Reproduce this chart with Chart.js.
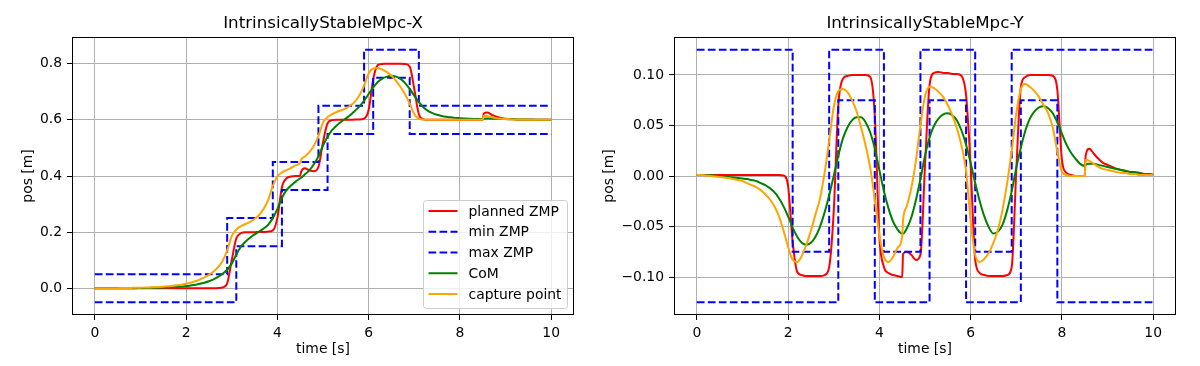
<!DOCTYPE html>
<html>
<head>
<meta charset="utf-8">
<script src="https://cdn.jsdelivr.net/npm/chart.js@4.4.1/dist/chart.umd.min.js"></script>
<style>
  html, body { margin: 0; padding: 0; background: #fff; }
  #wrap { position: relative; width: 1200px; height: 366px; }
  .box { position: absolute; top: 0; width: 600px; height: 366px; }
</style>
</head>
<body>
<div id="wrap">
  <div class="box" style="left:0"><canvas id="chartX" width="600" height="366"></canvas></div>
  <div class="box" style="left:600px"><canvas id="chartY" width="600" height="366"></canvas></div>
</div>
<script>
// --------------
// DATA
// --------------
const times = [
  0.0, 0.1, 0.2, 0.3, 0.4, 0.5, 0.6, 0.7, 0.8, 0.9,
  1.0, 1.1, 1.2, 1.3, 1.4, 1.5, 1.6, 1.7, 1.8, 1.9,
  2.0, 2.1, 2.2, 2.3, 2.4, 2.5, 2.6, 2.7, 2.8, 2.9,
  3.0, 3.1, 3.2, 3.3, 3.4, 3.5, 3.6, 3.7, 3.8, 3.9,
  4.0, 4.1, 4.2, 4.3, 4.4, 4.5, 4.52, 4.6, 4.7, 4.8, 4.9,
  5.0, 5.1, 5.2, 5.3, 5.4, 5.5, 5.6, 5.7, 5.8, 5.9,
  6.0, 6.1, 6.2, 6.3, 6.4, 6.5, 6.6, 6.7, 6.8, 6.9,
  7.0, 7.1, 7.2, 7.3, 7.4, 7.5, 7.6, 7.7, 7.8, 7.9,
  8.0, 8.1, 8.2, 8.3, 8.4, 8.5, 8.52, 8.6, 8.7, 8.8, 8.9,
  9.0, 9.1, 9.2, 9.3, 9.4, 9.5, 9.6, 9.7, 9.8, 9.9,
  10.0
];

// X direction
const zmpX = [
  0, 0, 0, 0, 0, 0, 0, 0, 0, 0,
  0, 0, 0, 0, 0, 0, 0, 0, 0, 0,
  0, 0, 0, 0, 0, 0, 0, 0.001, 0.003, 0.018,
  0.1, 0.178, 0.196, 0.2, 0.2, 0.2, 0.201, 0.201, 0.202, 0.206,
  0.25, 0.36, 0.392, 0.398, 0.4, 0.401, 0.415, 0.428, 0.42, 0.417, 0.432,
  0.52, 0.588, 0.599, 0.6, 0.6, 0.6, 0.6, 0.601, 0.601, 0.604,
  0.635, 0.745, 0.795, 0.799, 0.8, 0.8, 0.8, 0.8, 0.799, 0.79,
  0.71, 0.62, 0.602, 0.6, 0.6, 0.6, 0.6, 0.6, 0.6, 0.6,
  0.6, 0.6, 0.6, 0.6, 0.6, 0.6, 0.622, 0.626, 0.618, 0.611, 0.607,
  0.604, 0.603, 0.602, 0.601, 0.6, 0.6, 0.6, 0.6, 0.6, 0.6,
  0.6
];
const comX = [
  0, 0, 0, 0, 0, 0, 0, 0, 0.0005, 0.0005,
  0.001, 0.001, 0.0015, 0.002, 0.002, 0.003, 0.003, 0.004, 0.005, 0.006,
  0.008, 0.01, 0.013, 0.016, 0.02, 0.025, 0.032, 0.041, 0.052, 0.066,
  0.088, 0.12, 0.148, 0.166, 0.18, 0.192, 0.202, 0.213, 0.227, 0.25,
  0.282, 0.322, 0.35, 0.366, 0.38, 0.392, 0.394, 0.405, 0.42, 0.442, 0.47,
  0.508, 0.54, 0.563, 0.58, 0.593, 0.605, 0.617, 0.632, 0.648, 0.668,
  0.692, 0.715, 0.735, 0.747, 0.754, 0.757, 0.754, 0.746, 0.731, 0.71,
  0.686, 0.663, 0.645, 0.632, 0.624, 0.618, 0.614, 0.611, 0.609, 0.607,
  0.606, 0.605, 0.604, 0.603, 0.603, 0.602, 0.604, 0.605, 0.604, 0.604, 0.603,
  0.603, 0.602, 0.602, 0.601, 0.601, 0.601, 0.601, 0.6, 0.6, 0.6,
  0.6
];
const cpX = [
  0, 0, 0, 0, 0.0005, 0.0005, 0.001, 0.001, 0.0015, 0.002,
  0.002, 0.003, 0.003, 0.004, 0.005, 0.006, 0.007, 0.009, 0.011, 0.013,
  0.016, 0.02, 0.025, 0.031, 0.039, 0.048, 0.06, 0.075, 0.097, 0.135,
  0.186, 0.209, 0.221, 0.229, 0.237, 0.247, 0.261, 0.283, 0.315, 0.365,
  0.398, 0.413, 0.421, 0.429, 0.438, 0.447, 0.458, 0.469, 0.485, 0.508, 0.542,
  0.59, 0.61, 0.62, 0.628, 0.634, 0.641, 0.651, 0.665, 0.688, 0.722,
  0.765, 0.783, 0.785, 0.779, 0.77, 0.757, 0.739, 0.717, 0.69, 0.658,
  0.62, 0.604, 0.601, 0.6, 0.6, 0.6, 0.6, 0.6, 0.6, 0.6,
  0.6, 0.6, 0.6, 0.6, 0.6, 0.6, 0.615, 0.613, 0.609, 0.606, 0.604,
  0.603, 0.602, 0.601, 0.601, 0.6, 0.6, 0.6, 0.6, 0.6, 0.6,
  0.6
];
const minZmpXTimes = [0, 3.1, 4.1, 5.1, 6.1, 6.9, 10];
const minZmpX      = [-0.05, 0.15, 0.35, 0.55, 0.75, 0.55, 0.55];
const maxZmpXTimes = [0, 2.9, 3.9, 4.9, 5.9, 7.1, 10];
const maxZmpX      = [0.05, 0.25, 0.45, 0.65, 0.85, 0.65, 0.65];

// Y direction
const zmpY = [
  0.001, 0.001, 0.001, 0.001, 0.001, 0.001, 0.001, 0.001, 0.001, 0.001,
  0.001, 0.001, 0.001, 0.001, 0.001, 0.001, 0.001, 0.001, 0.001, 0.0005,
  -0.01, -0.065, -0.095, -0.098, -0.099, -0.099, -0.099, -0.099, -0.098, -0.09,
  -0.035, 0.07, 0.096, 0.099, 0.1, 0.1, 0.1, 0.1, 0.098, 0.06,
  -0.06, -0.09, -0.096, -0.098, -0.099, -0.1, -0.077, -0.075, -0.078, -0.083, -0.078,
  0.01, 0.09, 0.102, 0.103, 0.102, 0.102, 0.101, 0.101, 0.099, 0.08,
  0.01, -0.083, -0.096, -0.098, -0.099, -0.099, -0.099, -0.099, -0.098, -0.09,
  0.005, 0.088, 0.098, 0.1, 0.1, 0.1, 0.1, 0.1, 0.099, 0.085,
  0.016, 0.003, 0.001, 0, 0, 0, 0.02, 0.027, 0.022, 0.017, 0.013,
  0.011, 0.009, 0.007, 0.006, 0.005, 0.004, 0.003, 0.003, 0.002, 0.002,
  0.001
];
const comY = [
  0.001, 0.001, 0.001, 0.0008, 0.0005, 0, -0.0005, -0.001, -0.0015, -0.002,
  -0.0025, -0.003, -0.004, -0.005, -0.007, -0.009, -0.012, -0.016, -0.022, -0.03,
  -0.04, -0.051, -0.06, -0.066, -0.068, -0.066, -0.06, -0.05, -0.036, -0.019,
  0.0, 0.02, 0.037, 0.048, 0.055, 0.058, 0.058, 0.053, 0.043, 0.027,
  0.006, -0.015, -0.032, -0.045, -0.053, -0.057, -0.057, -0.052, -0.041, -0.024, -0.003,
  0.02, 0.038, 0.05, 0.057, 0.061, 0.062, 0.06, 0.055, 0.045, 0.031,
  0.013, -0.007, -0.025, -0.04, -0.051, -0.057, -0.055, -0.048, -0.034, -0.015,
  0.008, 0.028, 0.045, 0.057, 0.064, 0.068, 0.069, 0.067, 0.062, 0.053,
  0.042, 0.031, 0.023, 0.017, 0.012, 0.01, 0.011, 0.012, 0.012, 0.011, 0.01,
  0.009, 0.008, 0.007, 0.006, 0.005, 0.004, 0.004, 0.003, 0.002, 0.002,
  0.001
];
const cpY = [
  0.001, 0.001, 0.0005, 0, -0.0005, -0.001, -0.0015, -0.002, -0.003, -0.004,
  -0.005, -0.007, -0.009, -0.011, -0.014, -0.018, -0.023, -0.03, -0.04, -0.054,
  -0.07, -0.083, -0.085, -0.079, -0.068, -0.054, -0.038, -0.022, 0.003, 0.035,
  0.068, 0.084, 0.086, 0.083, 0.075, 0.064, 0.048, 0.03, 0.008, -0.023,
  -0.058, -0.08, -0.085, -0.08, -0.071, -0.06, -0.043, -0.03, -0.012, 0.015, 0.05,
  0.079, 0.088, 0.087, 0.083, 0.078, 0.07, 0.06, 0.047, 0.03, 0.005,
  -0.045, -0.078, -0.085, -0.082, -0.076, -0.066, -0.053, -0.033, -0.007, 0.025,
  0.062, 0.086, 0.091, 0.088, 0.084, 0.078, 0.07, 0.062, 0.048, 0.024,
  0.004, 0.001, 0, 0, 0, 0, 0.016, 0.015, 0.012, 0.009, 0.007,
  0.006, 0.005, 0.004, 0.003, 0.003, 0.002, 0.002, 0.001, 0.001, 0.001,
  0.001
];
const minZmpYTimes = [0, 3.1, 3.9, 5.1, 5.9, 7.1, 7.9, 10];
const minZmpY      = [-0.125, 0.075, -0.125, 0.075, -0.125, 0.075, -0.125, -0.125];
const maxZmpYTimes = [0, 2.1, 2.9, 4.1, 4.9, 6.1, 6.9, 10];
const maxZmpY      = [0.125, -0.075, 0.125, -0.075, 0.125, -0.075, 0.125, 0.125];

// Ticks
const xTicks  = [0, 2, 4, 6, 8, 10];
const yTicksX = [0, 0.2, 0.4, 0.6, 0.8];
const yTicksY = [-0.1, -0.05, 0, 0.05, 0.1];

// --------------
// HELPERS
// --------------
Chart.defaults.font.family = 'DejaVu Sans';
Chart.defaults.font.size = 13.9;
Chart.defaults.color = '#000';

const pts = (xs, ys) => xs.map((x, i) => ({ x: x, y: ys[i] }));
const minus = s => s.replace('-', '\u2212');

function makeDatasets(zmp, minT, minV, maxT, maxV, com, cp) {
  const dash = [7.7, 3.3];
  return [
    { label: 'planned ZMP', data: pts(times, zmp), borderColor: '#ff0000', order: 5 },
    { label: 'min ZMP', data: pts(minT, minV), borderColor: '#0000ff', borderDash: dash, stepped: true, order: 4 },
    { label: 'max ZMP', data: pts(maxT, maxV), borderColor: '#0000ff', borderDash: dash, stepped: true, order: 3 },
    { label: 'CoM', data: pts(times, com), borderColor: '#008000', order: 2 },
    { label: 'capture point', data: pts(times, cp), borderColor: '#ffa500', order: 1 }
  ].map(d => Object.assign({
    borderWidth: 2, pointRadius: 0, fill: false,
    cubicInterpolationMode: d.stepped ? 'default' : 'monotone'
  }, d));
}

// title + axes frame, matplotlib style
function framePlugin(title) {
  return {
    id: 'frame',
    afterDatasetsDraw(chart) {
      const ctx = chart.ctx, a = chart.chartArea;
      ctx.save();
      ctx.strokeStyle = '#000';
      ctx.lineWidth = 1;
      ctx.strokeRect(a.left + 0.5, a.top + 0.5, a.right - a.left - 1, a.bottom - a.top - 1);
      ctx.restore();
    },
    afterDraw(chart) {
      const ctx = chart.ctx, a = chart.chartArea;
      ctx.save();
      ctx.font = '16.7px "DejaVu Sans"';
      ctx.fillStyle = '#000';
      ctx.textAlign = 'center';
      ctx.textBaseline = 'alphabetic';
      ctx.fillText(title, (a.left + a.right) / 2, 27.5);
      ctx.restore();
    }
  };
}

// legend box in lower right of the axes
const legendPlugin = {
  id: 'mplLegend',
  afterDraw(chart) {
    const ctx = chart.ctx, a = chart.chartArea;
    const items = chart.data.datasets;
    const w = 144, h = 108, rowH = 20.75;
    const right = a.right - 7, bottom = a.bottom - 7;
    const left = right - w, top = bottom - h;
    ctx.save();
    ctx.beginPath();
    ctx.roundRect(left + 0.5, top + 0.5, w, h, 3);
    ctx.fillStyle = 'rgba(255,255,255,0.8)';
    ctx.fill();
    ctx.strokeStyle = '#cccccc';
    ctx.lineWidth = 1;
    ctx.stroke();
    ctx.font = '13.9px "DejaVu Sans"';
    ctx.textBaseline = 'middle';
    ctx.textAlign = 'left';
    items.forEach((d, i) => {
      const y = top + 11 + i * rowH;
      ctx.beginPath();
      ctx.setLineDash(d.borderDash || []);
      ctx.strokeStyle = d.borderColor;
      ctx.lineWidth = 2;
      ctx.moveTo(left + 5.5, y);
      ctx.lineTo(left + 34.5, y);
      ctx.stroke();
      ctx.setLineDash([]);
      ctx.fillStyle = '#000';
      ctx.fillText(d.label, left + 45.5, y + 1);
    });
    ctx.restore();
  }
};

function makeChart(id, title, datasets, yMin, yMax, yTicks, decimals, yWidth, yTitlePad, rightPad, extra) {
  return new Chart(document.getElementById(id), {
    type: 'line',
    data: { datasets: datasets },
    options: {
      responsive: false,
      animation: false,
      devicePixelRatio: 1,
      layout: { padding: { left: 0, right: rightPad, top: 37, bottom: 0 } },
      plugins: { legend: { display: false }, tooltip: { enabled: false } },
      scales: {
        x: {
          type: 'linear', min: -0.5, max: 10.5,
          afterBuildTicks: s => { s.ticks = xTicks.map(v => ({ value: v })); },
          afterFit: s => { s.height = 51; },
          ticks: { padding: 5, maxRotation: 0, autoSkip: false, callback: v => String(v) },
          grid: { color: '#b0b0b0', lineWidth: 1, tickLength: 5, tickColor: '#000', tickWidth: 1 },
          border: { display: false },
          title: { display: true, text: 'time [s]', padding: { top: 0, bottom: 8.7 } }
        },
        y: {
          type: 'linear', min: yMin, max: yMax,
          afterBuildTicks: s => { s.ticks = yTicks.map(v => ({ value: v })); },
          afterFit: s => { s.width = yWidth; },
          ticks: { padding: 5, autoSkip: false, callback: v => minus(v.toFixed(decimals)) },
          grid: { color: '#b0b0b0', lineWidth: 1, tickLength: 5, tickColor: '#000', tickWidth: 1 },
          border: { display: false },
          title: { display: true, text: 'pos [m]', padding: { top: yTitlePad, bottom: 0 } }
        }
      }
    },
    plugins: [framePlugin(title)].concat(extra)
  });
}

// --------------
// CHARTS
// --------------
makeChart('chartX', 'IntrinsicallyStableMpc-X',
  makeDatasets(zmpX, minZmpXTimes, minZmpX, maxZmpXTimes, maxZmpX, comX, cpX),
  -0.095, 0.895, yTicksX, 1, 72, 20, 26, [legendPlugin]);

makeChart('chartY', 'IntrinsicallyStableMpc-Y',
  makeDatasets(zmpY, minZmpYTimes, minZmpY, maxZmpYTimes, maxZmpY, comY, cpY),
  -0.1375, 0.1375, yTicksY, 2, 74, 1, 24, []);
</script>
</body>
</html>
